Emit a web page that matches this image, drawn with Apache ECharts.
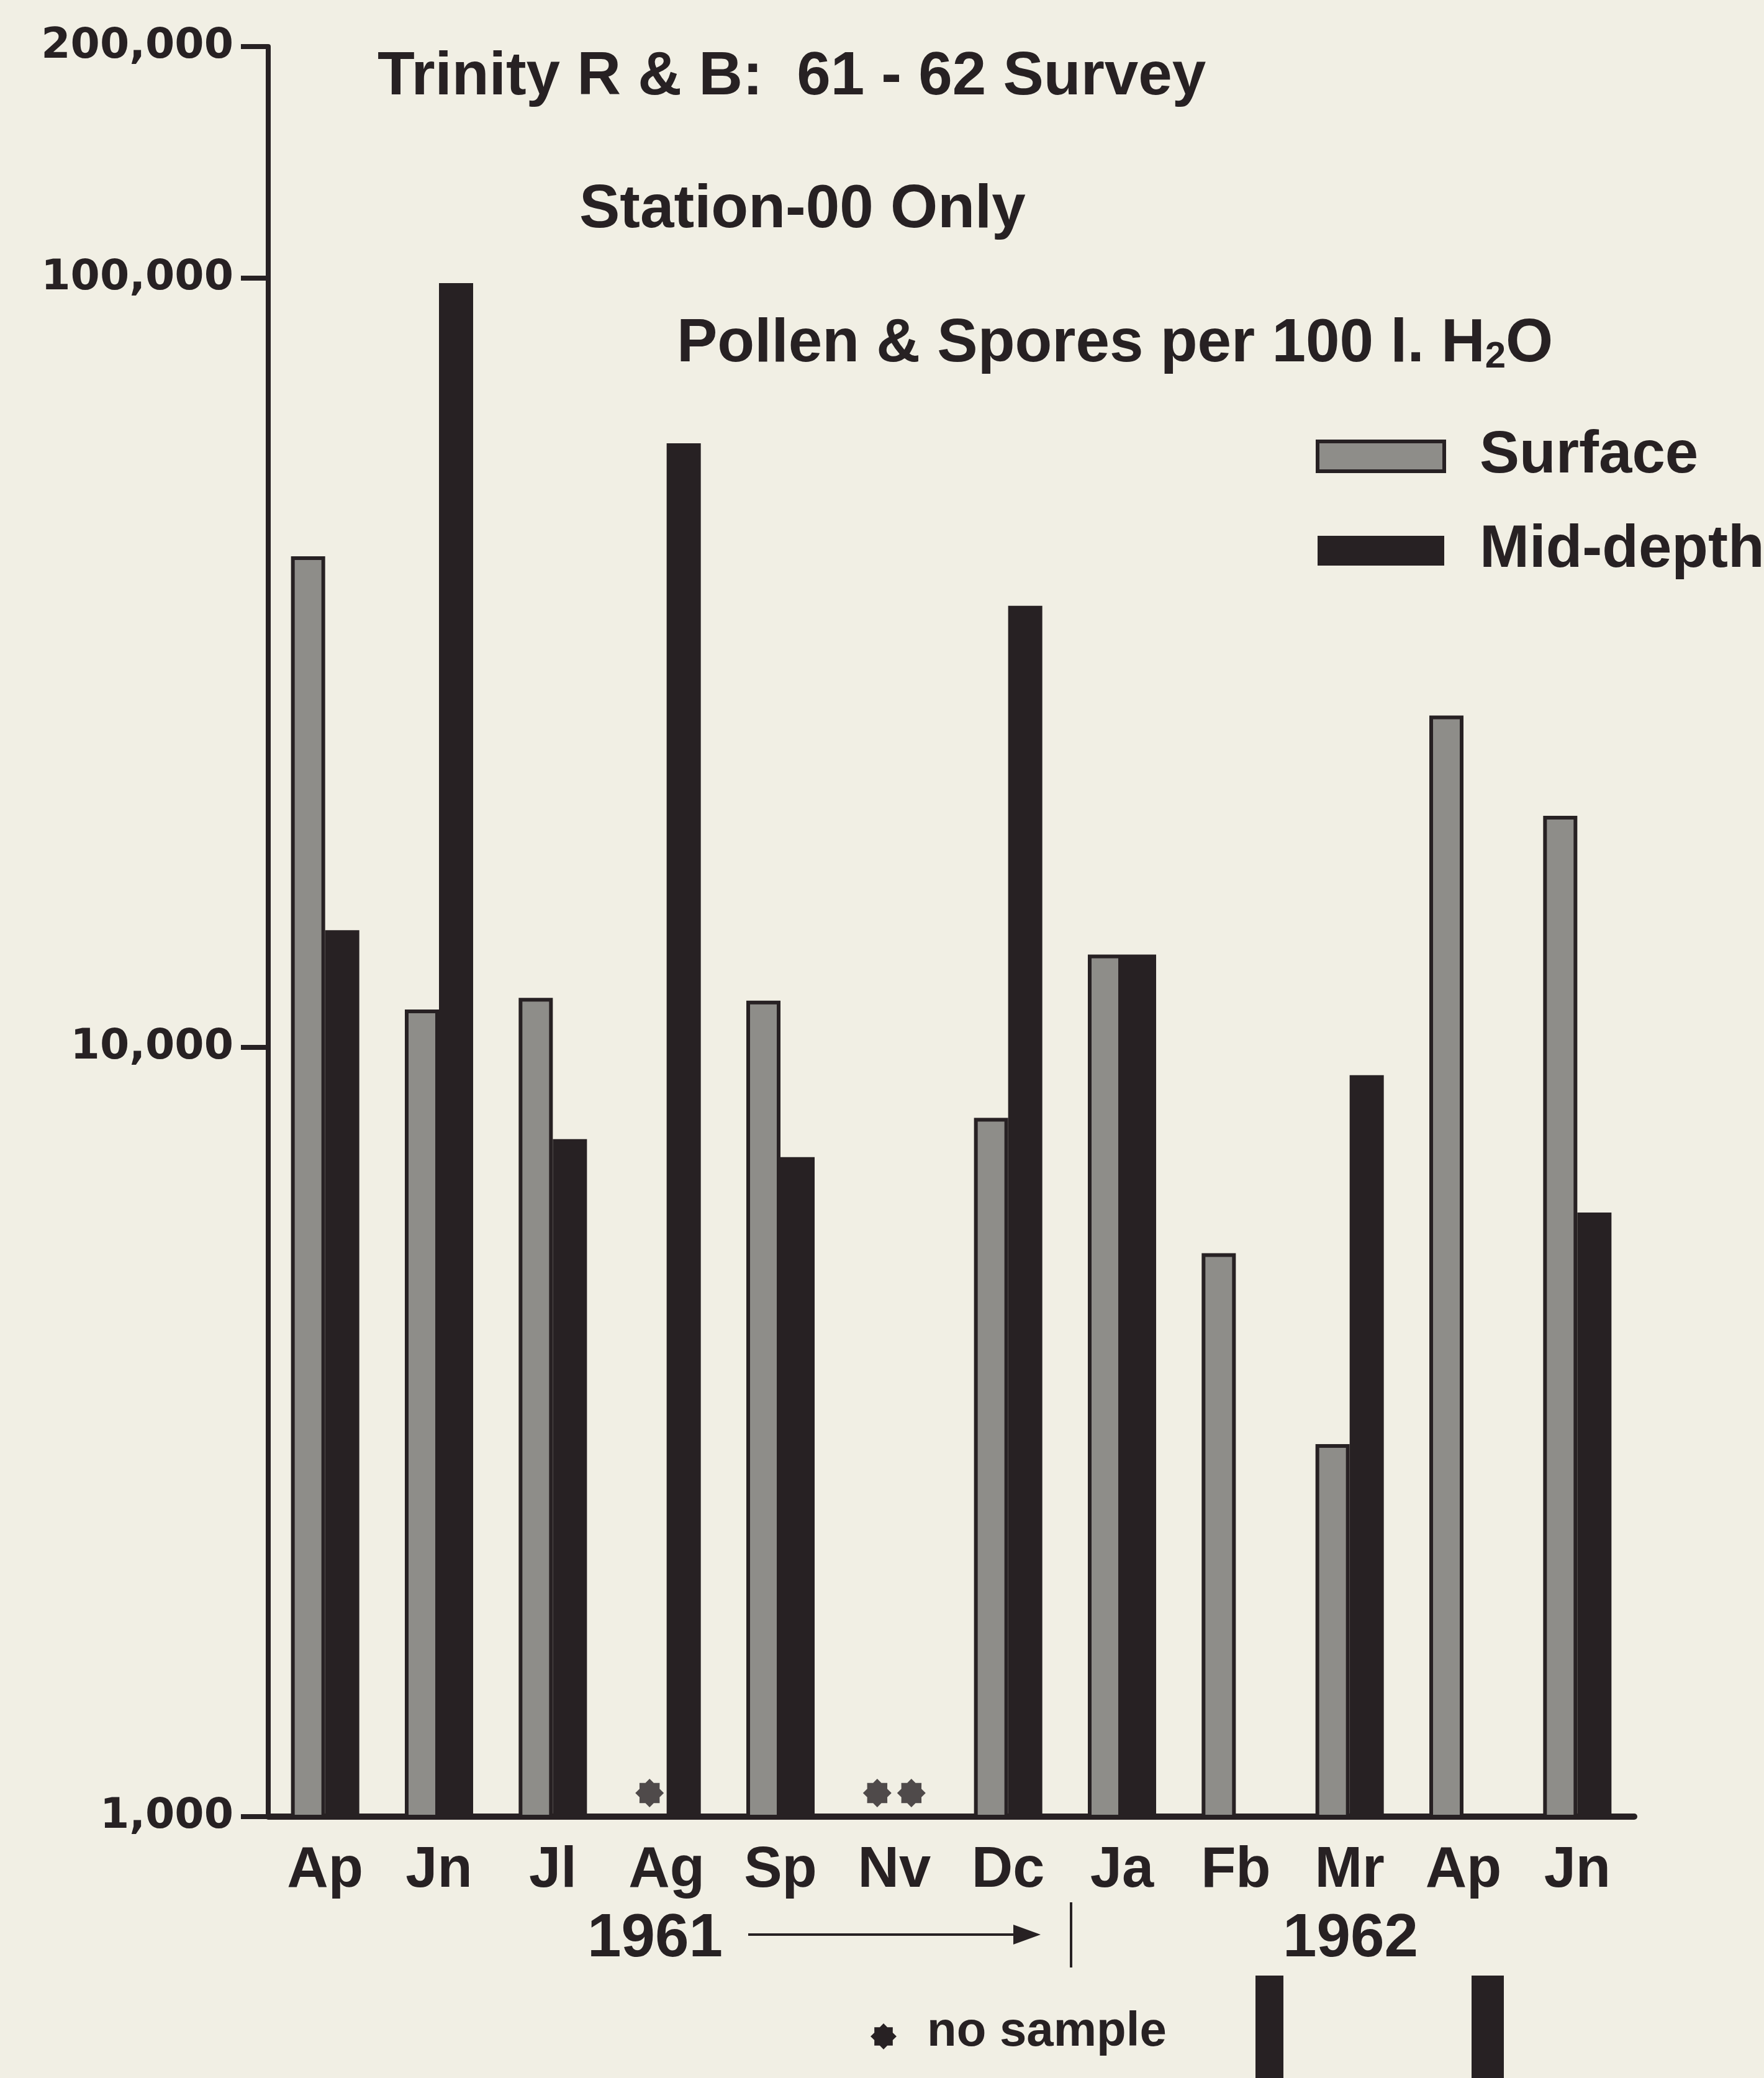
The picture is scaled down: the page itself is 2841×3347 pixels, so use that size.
<!DOCTYPE html>
<html>
<head>
<meta charset="utf-8">
<script src="https://cdn.jsdelivr.net/npm/echarts@6/dist/echarts.min.js"></script>
<style>
  html, body { margin: 0; padding: 0; background: #f1efe4; }
  #chart { width: 2841px; height: 3347px; }
</style>
</head>
<body>
<div id="chart"></div>
<script>
// ---------------- data ----------------
const months = ['Ap', 'Jn', 'Jl', 'Ag', 'Sp', 'Nv', 'Dc', 'Ja', 'Fb', 'Mr', 'Ap', 'Jn'];
const surface = [43500, 11200, 11600, null, 11500, null, 8100, 13200, 5400, 3050, 27000, 20000];
const midDepth = [14200, 98500, 7600, 61000, 7200, null, 37500, 13200, null, 9200, null, 6100];
const surfaceNoSample = [false, false, false, true, false, true, false, false, false, false, false, false];
const midDepthNoSample = [false, false, false, false, false, true, false, false, false, false, false, false];
const yTicks = [1000, 10000, 100000, 200000];
const titleLines = ['Trinity R & B:  61 - 62 Survey', 'Station-00 Only', 'Pollen & Spores per 100 l. H{sub|2}O'];
const seriesNames = ['Surface', 'Mid-depth'];
const yearLabels = ['1961', '1962'];
const noteText = 'no sample';

// ---------------- style ----------------
const INK = '#272123';
const GRAY = '#8e8d89';
const BG = '#f1efe4';
const FONT = '"Liberation Sans", Arial, sans-serif';
const YFONT = '"DejaVu Sans", sans-serif';
const BAR_W = 55;

function starPoints(n, rOut, rIn, cx, cy) {
  const pts = [];
  for (let i = 0; i < n * 2; i++) {
    const r = i % 2 === 0 ? rOut : rIn;
    const a = Math.PI * i / n - Math.PI / 2;
    pts.push([cx + r * Math.cos(a), cy + r * Math.sin(a)]);
  }
  return pts;
}
const STAR = 'path://' + starPoints(8, 10, 7.6, 0, 0)
  .map((p, i) => (i === 0 ? 'M' : 'L') + p[0].toFixed(3) + ' ' + p[1].toFixed(3)).join(' ') + ' Z';

function noSampleData(flags) {
  const out = [];
  flags.forEach((f, i) => { if (f) out.push([i, yTicks[0]]); });
  return out;
}

const chart = echarts.init(document.getElementById('chart'), null, { renderer: 'canvas' });

const txt = (text, x, y, size, rich) => ({
  type: 'text',
  style: {
    text, x, y, fill: INK, fontFamily: FONT, fontWeight: 'bold', fontSize: size,
    align: 'left', verticalAlign: 'middle', rich: rich || undefined
  }
});

const option = {
  backgroundColor: BG,
  animation: false,
  grid: { left: 432, right: 209, top: 75, bottom: 421, containLabel: false },
  legend: {
    orient: 'vertical',
    left: 2114,
    top: 670,
    itemWidth: 204,
    itemHeight: 48,
    itemGap: 32,
    icon: 'rect',
    selectedMode: false,
    data: [
      { name: seriesNames[0], itemStyle: { color: GRAY, borderColor: INK, borderWidth: 6 } },
      { name: seriesNames[1], itemStyle: { color: INK, borderWidth: 0 } }
    ],
    textStyle: { color: INK, fontFamily: FONT, fontWeight: 'bold', fontSize: 96, lineHeight: 100, padding: [0, 0, 20, 52] }
  },
  xAxis: {
    type: 'category',
    data: months,
    boundaryGap: true,
    axisLine: { lineStyle: { color: INK, width: 10 } },
    axisTick: { show: false },
    axisLabel: { color: INK, fontFamily: FONT, fontWeight: 'bold', fontSize: 92, margin: 42, interval: 0 },
    splitLine: { show: false }
  },
  yAxis: {
    type: 'log',
    logBase: 10,
    min: yTicks[0],
    max: yTicks[yTicks.length - 1],
    axisLine: { show: true, lineStyle: { color: INK, width: 8 } },
    axisTick: { show: true, inside: false, length: 44, lineStyle: { color: INK, width: 8 } },
    axisLabel: {
      color: INK, fontFamily: YFONT, fontWeight: 'bold', fontSize: 68, margin: 56,
      showMaxLabel: true, showMinLabel: true,
      formatter: v => Math.round(v).toLocaleString('en-US')
    },
    splitLine: { show: false },
    minorTick: { show: false }
  },
  series: [
    {
      name: seriesNames[0],
      type: 'bar',
      data: surface,
      barWidth: BAR_W,
      barGap: '0%',
      itemStyle: { color: GRAY, borderColor: INK, borderWidth: 6 },
      z: 2
    },
    {
      name: seriesNames[1],
      type: 'bar',
      data: midDepth,
      barWidth: BAR_W,
      barGap: '0%',
      itemStyle: { color: INK },
      z: 3
    },
    {
      name: 'no sample (surface)',
      type: 'scatter',
      data: noSampleData(surfaceNoSample),
      symbol: STAR,
      symbolSize: 46,
      symbolOffset: [-BAR_W / 2, -38],
      itemStyle: { color: INK },
      z: 4
    },
    {
      name: 'no sample (mid-depth)',
      type: 'scatter',
      data: noSampleData(midDepthNoSample),
      symbol: STAR,
      symbolSize: 46,
      symbolOffset: [BAR_W / 2, -38],
      itemStyle: { color: INK },
      z: 4
    }
  ],
  graphic: [
    txt(titleLines[0], 608, 125, 98),
    txt(titleLines[1], 933, 339, 98),
    txt(titleLines[2], 1090, 555, 98, {
      sub: { fontFamily: FONT, fontWeight: 'bold', fontSize: 60, fill: INK, padding: [40, 0, 0, 0] }
    }),
    txt(yearLabels[0], 946, 3124, 98),
    txt(yearLabels[1], 2066, 3124, 98),
    { type: 'line', shape: { x1: 1205, y1: 3116, x2: 1640, y2: 3116 }, style: { stroke: INK, lineWidth: 4 } },
    { type: 'polygon', shape: { points: [[1632, 3100], [1676, 3116], [1632, 3132]] }, style: { fill: INK } },
    { type: 'line', shape: { x1: 1725, y1: 3064, x2: 1725, y2: 3169 }, style: { stroke: INK, lineWidth: 4 } },
    { type: 'polygon', shape: { points: starPoints(8, 21, 16, 1423, 3280) }, style: { fill: INK } },
    txt(noteText, 1493, 3273, 78),
    { type: 'rect', shape: { x: 2022, y: 3182, width: 45, height: 170 }, style: { fill: INK } },
    { type: 'rect', shape: { x: 2370, y: 3182, width: 52, height: 170 }, style: { fill: INK } }
  ]
};

chart.setOption(option);
</script>
</body>
</html>
